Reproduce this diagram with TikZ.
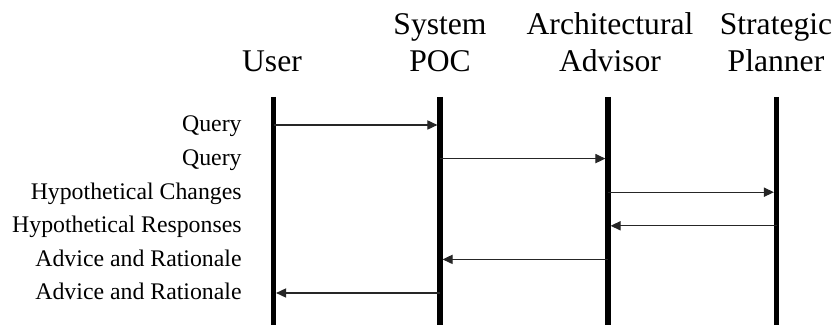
\documentclass[tikz,border=0pt]{standalone}
\usepackage{fontspec}
\setmainfont{Liberation Serif}
\usetikzlibrary{arrows.meta}
\begin{document}
\begin{tikzpicture}[x=0.5pt,y=-0.5pt,
  lifeline/.style={line width=2.6pt},
  head/.style={align=center,inner sep=0pt,anchor=base,font=\fontsize{15.8}{18.5}\selectfont},
  lbl/.style={inner sep=0pt,anchor=base east,font=\fontsize{11.9}{14}\selectfont},
  msg/.style={line width=0.55pt,black!85,-{Triangle[length=5pt,width=4.6pt]},shorten >=1.3pt}]
\useasboundingbox (0,0) rectangle (835,325);
% lifeline ends
\coordinate (uT) at (273.5,97); \coordinate (uB) at (273.5,326);
\coordinate (pT) at (440,97);   \coordinate (pB) at (440,326);
\coordinate (aT) at (608,97);   \coordinate (aB) at (608,326);
\coordinate (sT) at (776.5,97); \coordinate (sB) at (776.5,326);
% headers
\node[head] (hU) at (272,72) {User};
\node[head] (hP) at (440,72) {System\\POC};
\node[head] (hA) at (610,72) {Architectural\\Advisor};
\node[head] (hS) at (776,72) {Strategic\\Planner};
% lifelines
\draw[lifeline] (uT) -- (uB);
\draw[lifeline] (pT) -- (pB);
\draw[lifeline] (aT) -- (aB);
\draw[lifeline] (sT) -- (sB);
% message points
\foreach \i/\y in {1/125,2/158.6,3/192.2,4/225.8,5/259.4,6/293}{
  \coordinate (u\i) at (273.5,\y);
  \coordinate (p\i) at (440,\y);
  \coordinate (a\i) at (608,\y);
  \coordinate (s\i) at (776.5,\y);
}
% labels
\node[lbl] (l1) at (242,132) {Query};
\node[lbl] (l2) at (242,165.6) {Query};
\node[lbl] (l3) at (242,199.2) {Hypothetical Changes};
\node[lbl] (l4) at (242,232.8) {Hypothetical Responses};
\node[lbl] (l5) at (242,266.4) {Advice and Rationale};
\node[lbl] (l6) at (242,300) {Advice and Rationale};
% messages
\draw[msg] (u1) -- (p1);
\draw[msg] (p2) -- (a2);
\draw[msg] (a3) -- (s3);
\draw[msg] (s4) -- (a4);
\draw[msg] (a5) -- (p5);
\draw[msg] (p6) -- (u6);
\end{tikzpicture}
\end{document}
